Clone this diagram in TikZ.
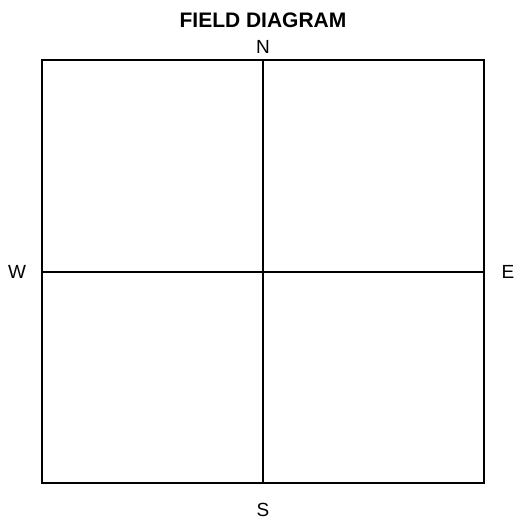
\documentclass[tikz,border=0pt]{standalone}
\usepackage{fontspec}
\setmainfont{Liberation Sans}
\begin{document}
\begin{tikzpicture}[x=1pt,y=-1pt,
  field/.style={draw=black,line width=1.6pt},
  dirlabel/.style={inner sep=0pt,font=\fontsize{19}{23}\selectfont},
  titlelabel/.style={inner sep=0pt,font=\fontsize{21}{25}\selectfont\bfseries}]
\useasboundingbox (0,0) rectangle (515,521);
\coordinate (tl) at (42,60);
\coordinate (br) at (484,483);
\coordinate (tm) at (263,60);
\coordinate (bm) at (263,483);
\coordinate (lm) at (42,272);
\coordinate (rm) at (484,272);
\draw[field] (tl) rectangle (br);
\draw[field] (tm) -- (bm);
\draw[field] (lm) -- (rm);
\node[titlelabel] (title) at (263,20) {FIELD DIAGRAM};
\node[dirlabel] (n) at (263,46.5) {N};
\node[dirlabel] (s) at (263,510) {S};
\node[dirlabel] (w) at (17,272) {W};
\node[dirlabel] (e) at (508,272) {E};
\end{tikzpicture}
\end{document}
